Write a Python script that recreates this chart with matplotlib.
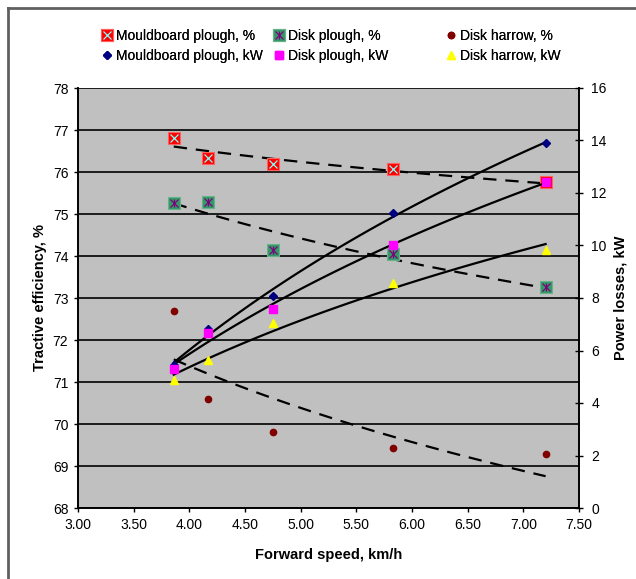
import numpy as np
import matplotlib
matplotlib.use('Agg')
from matplotlib import pyplot as plt
from matplotlib import rc
from matplotlib.lines import Line2D
from matplotlib.legend_handler import HandlerTuple
from matplotlib.ticker import FormatStrFormatter, MultipleLocator

rc('font', family=['Liberation Sans', 'DejaVu Sans'])
rc('font', size=10)

# forward speed, km/h
speed = [3.86, 4.17, 4.75, 5.83, 7.20]

# tractive efficiency, %
mb_eff = [76.82, 76.33, 76.19, 76.07, 75.76]
dp_eff = [75.27, 75.28, 74.14, 74.05, 73.27]
dh_eff = [72.69, 70.59, 69.82, 69.42, 69.28]

# power losses, kW
mb_kw = [5.44, 6.83, 8.08, 11.24, 13.89]
dp_kw = [5.31, 6.68, 7.57, 10.02, 12.43]
dh_kw = [4.86, 5.63, 7.06, 8.56, 9.83]

W, H = 636, 579
fig = plt.figure(figsize=(W / 100, H / 100), dpi=100)
ax = fig.add_axes([78 / W, 1 - 508 / H, (579 - 78) / W, (508 - 88) / H])
ax2 = ax.twinx()

ax.set_facecolor('#C0C0C0')
ax.set_xlim(3.0, 7.5)
ax.set_ylim(68, 78)
ax2.set_ylim(0, 16)
ax.xaxis.set_major_locator(MultipleLocator(0.5))
ax.xaxis.set_major_formatter(FormatStrFormatter('%.2f'))
ax.yaxis.set_major_locator(MultipleLocator(1))
ax2.yaxis.set_major_locator(MultipleLocator(2))
ax.grid(axis='y', color='black', linewidth=1.2)
ax.set_axisbelow(True)

for a in (ax, ax2):
    a.spines['top'].set_visible(False)
    for s in ('left', 'bottom', 'right'):
        a.spines[s].set_linewidth(1.2)
ax.tick_params(axis='both', direction='out', length=3, width=1, pad=4, labelsize=10)
ax2.tick_params(axis='y', direction='inout', length=6, width=1, pad=6, labelsize=10)

sx = np.linspace(min(speed), max(speed), 100)


def trend(y):
    # logarithmic trend line, as in the spreadsheet
    k, b = np.polyfit(np.log(speed), y, 1)
    return k * np.log(sx) + b


dash = (0, (6, 4))
for y in (mb_eff, dp_eff, dh_eff):
    ax.plot(sx, trend(y), color='black', linestyle=dash, linewidth=1.6, zorder=2)
for y in (mb_kw, dp_kw, dh_kw):
    ax2.plot(sx, trend(y), color='black', linewidth=1.6, zorder=2)

h1 = ax.plot(speed, mb_eff, 's', ms=8, color='#FF0000', mec='#FF6060', mew=0.8, zorder=3)[0]
h1x = ax.plot(speed, mb_eff, 'x', ms=6, color='#7FFFFF', mew=0.9, zorder=4)[0]
h2 = ax.plot(speed, dp_eff, 's', ms=8, color='#339966', mec='#66B08A', mew=0.8, zorder=3)[0]
h2x = ax.plot(speed, dp_eff, 'x', ms=6, color='#800080', mew=0.9, zorder=4)[0]
h2v = ax.plot(speed, dp_eff, '|', ms=6, color='#800080', mew=0.9, zorder=4)[0]
h3 = ax.plot(speed, dh_eff, 'o', ms=4.5, color='#800000', zorder=3)[0]

h4 = ax2.plot(speed, mb_kw, 'D', ms=4, color='#000080', zorder=3)[0]
h5 = ax2.plot(speed, dp_kw, 's', ms=5.5, color='#FF00FF', zorder=3)[0]
h6 = ax2.plot(speed, dh_kw, '^', ms=6, color='#FFFF00', zorder=3)[0]

ax.set_xlabel('Forward speed, km/h', fontsize=10.5, fontweight='bold', labelpad=12)
ax.set_ylabel('Tractive efficiency, %', fontsize=10.5, fontweight='bold', labelpad=4)
ax2.set_ylabel('Power losses, kW', fontsize=10.5, fontweight='bold', labelpad=5)

# legend: three columns of two entries
cols = [
    ([(h1, h1x), h4], ['Mouldboard plough, %', 'Mouldboard plough, kW'], 94),
    ([(h2, h2x, h2v), h5], ['Disk plough, %', 'Disk plough, kW'], 266),
    ([h3, h6], ['Disk harrow, %', 'Disk harrow, kW'], 438),
]
for hs, labels, x0 in cols:
    leg = fig.legend(hs, labels, loc='upper left', bbox_to_anchor=(x0 / W, 1 - 22 / H),
                     frameon=False, borderpad=0, handlelength=0.8, handletextpad=0.3,
                     labelspacing=0.45, fontsize=10,
                     handler_map={tuple: HandlerTuple(ndivide=1, pad=0)})
    fig.add_artist(leg)

# outer chart border (left and top edges visible)
fig.add_artist(Line2D([8 / W, 8 / W], [0, 1 - 8 / H], color='#606060', linewidth=2))
fig.add_artist(Line2D([8 / W, 1], [1 - 8 / H, 1 - 8 / H], color='#606060', linewidth=2))

fig.savefig('out.png', dpi=100)
